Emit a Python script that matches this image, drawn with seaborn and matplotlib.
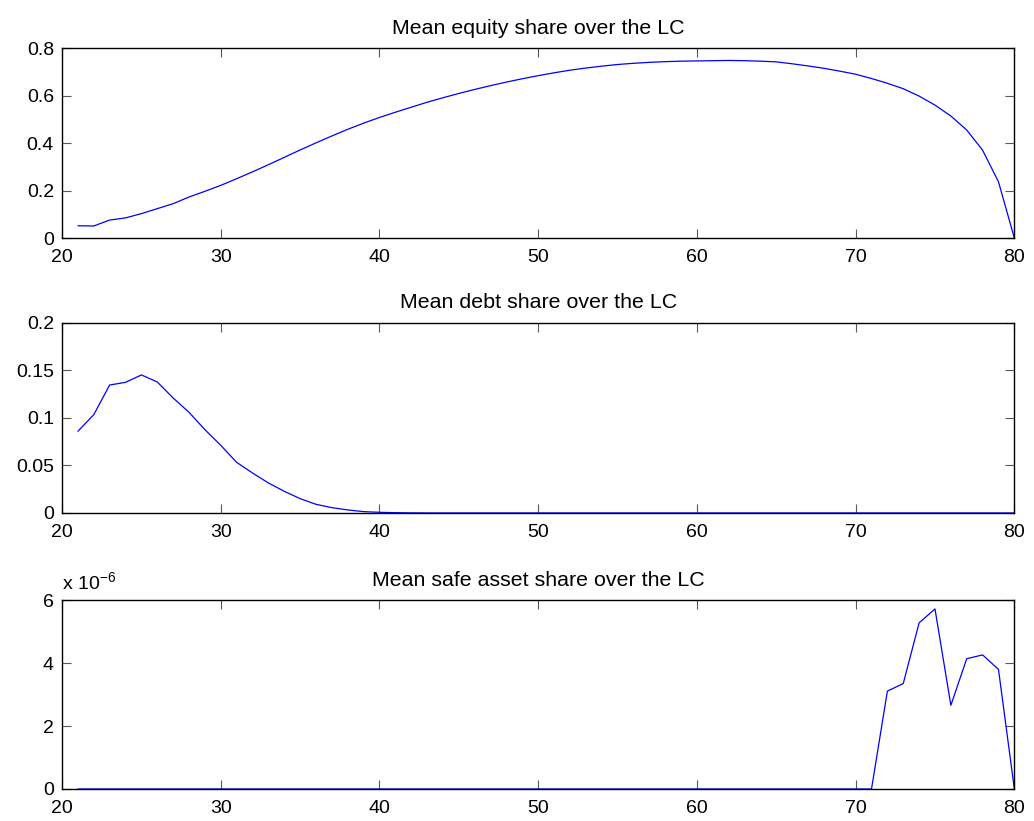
import numpy as np
import pandas as pd
import seaborn as sns
import matplotlib
matplotlib.use("Agg")
import matplotlib.pyplot as plt
from matplotlib.ticker import FuncFormatter, FixedLocator

# Life-cycle ages
age = list(range(21, 81))

# Mean equity share by age
equity_share = [
    0.052, 0.051, 0.076, 0.085, 0.103, 0.124, 0.145, 0.173, 0.197, 0.222,
    0.250, 0.279, 0.309, 0.340, 0.371, 0.401, 0.430, 0.458, 0.484, 0.508,
    0.530, 0.551, 0.572, 0.591, 0.609, 0.626, 0.642, 0.657, 0.671, 0.684,
    0.696, 0.707, 0.716, 0.724, 0.731, 0.736, 0.740, 0.743, 0.745, 0.746,
    0.747, 0.748, 0.747, 0.745, 0.742, 0.734, 0.725, 0.715, 0.703, 0.690,
    0.672, 0.652, 0.629, 0.598, 0.560, 0.514, 0.455, 0.370, 0.237, 0.000,
]

# Mean debt share by age
debt_share = [
    0.0860, 0.1035, 0.1347, 0.1375, 0.1453, 0.1379, 0.1210, 0.1060, 0.0877, 0.0712,
    0.0533, 0.0421, 0.0316, 0.0228, 0.0151, 0.0091, 0.0056, 0.0032, 0.0014, 0.0007,
    0.0003, 0.0001, 0.0, 0.0, 0.0, 0.0, 0.0, 0.0, 0.0, 0.0,
    0.0, 0.0, 0.0, 0.0, 0.0, 0.0, 0.0, 0.0, 0.0, 0.0,
    0.0, 0.0, 0.0, 0.0, 0.0, 0.0, 0.0, 0.0, 0.0, 0.0,
    0.0, 0.0, 0.0, 0.0, 0.0, 0.0, 0.0, 0.0, 0.0, 0.0,
]

# Mean safe asset share by age (tiny, of order 1e-6)
safe_share = [0.0] * 51 + [
    3.11e-6, 3.35e-6, 5.28e-6, 5.72e-6, 2.66e-6, 4.14e-6, 4.26e-6, 3.80e-6, 0.0,
]

titles = [
    "Mean equity share over the LC",
    "Mean debt share over the LC",
    "Mean safe asset share over the LC",
]
x_ticks = [20, 30, 40, 50, 60, 70, 80]
y_ticks = [
    [0, 0.2, 0.4, 0.6, 0.8],
    [0, 0.05, 0.1, 0.15, 0.2],
    [0, 2e-6, 4e-6, 6e-6],
]
safe_scale_label = r"x 10$^{-6}$"

sns.set_style("white")
plt.rcParams["font.family"] = ["Liberation Sans", "DejaVu Sans"]
plt.rcParams["mathtext.fontset"] = "custom"
plt.rcParams["mathtext.rm"] = "Liberation Sans"
plt.rcParams["mathtext.it"] = "Liberation Sans"
plt.rcParams["text.color"] = "black"
plt.rcParams["xtick.color"] = "black"
plt.rcParams["ytick.color"] = "black"
plt.rcParams["axes.titlecolor"] = "black"

df = pd.DataFrame({
    "age": age,
    "equity": equity_share,
    "debt": debt_share,
    "safe": safe_share,
})

fig = plt.figure(figsize=(10.34, 8.21), dpi=100)
positions = [
    [0.060, 0.710, 0.921, 0.2314],
    [0.060, 0.3752, 0.921, 0.2314],
    [0.060, 0.039, 0.921, 0.2300],
]

def plain_fmt(v, _):
    return f"{v:.10g}"

for i, (col, pos) in enumerate(zip(["equity", "debt", "safe"], positions)):
    ax = fig.add_axes(pos)
    sns.lineplot(data=df, x="age", y=col, ax=ax, color="#0000ff", linewidth=0.9)
    ax.set_xlim(20, 80)
    ax.set_ylim(y_ticks[i][0], y_ticks[i][-1])
    ax.xaxis.set_major_locator(FixedLocator(x_ticks))
    ax.yaxis.set_major_locator(FixedLocator(y_ticks[i]))
    if col == "safe":
        ax.yaxis.set_major_formatter(FuncFormatter(lambda v, _: f"{v * 1e6:.10g}"))
        ax.text(0.0, 1.035, safe_scale_label, transform=ax.transAxes,
                fontsize=14, ha="left", va="bottom", color="black")
    else:
        ax.yaxis.set_major_formatter(FuncFormatter(plain_fmt))
    ax.set_xlabel("")
    ax.set_ylabel("")
    ax.set_title(titles[i], fontsize=15.4, pad=10.5, color="black")
    for sp in ax.spines.values():
        sp.set_visible(True)
        sp.set_color("black")
        sp.set_linewidth(1.0)
    ax.tick_params(axis="both", direction="in", length=6.5, width=0.8,
                   color="0.35", labelcolor="black", labelsize=14,
                   top=True, right=True, bottom=True, left=True)
    ax.tick_params(axis="x", pad=8)
    ax.tick_params(axis="y", pad=5.8)
    ax.set_facecolor("white")

fig.savefig("out.png", dpi=100, facecolor="white")
